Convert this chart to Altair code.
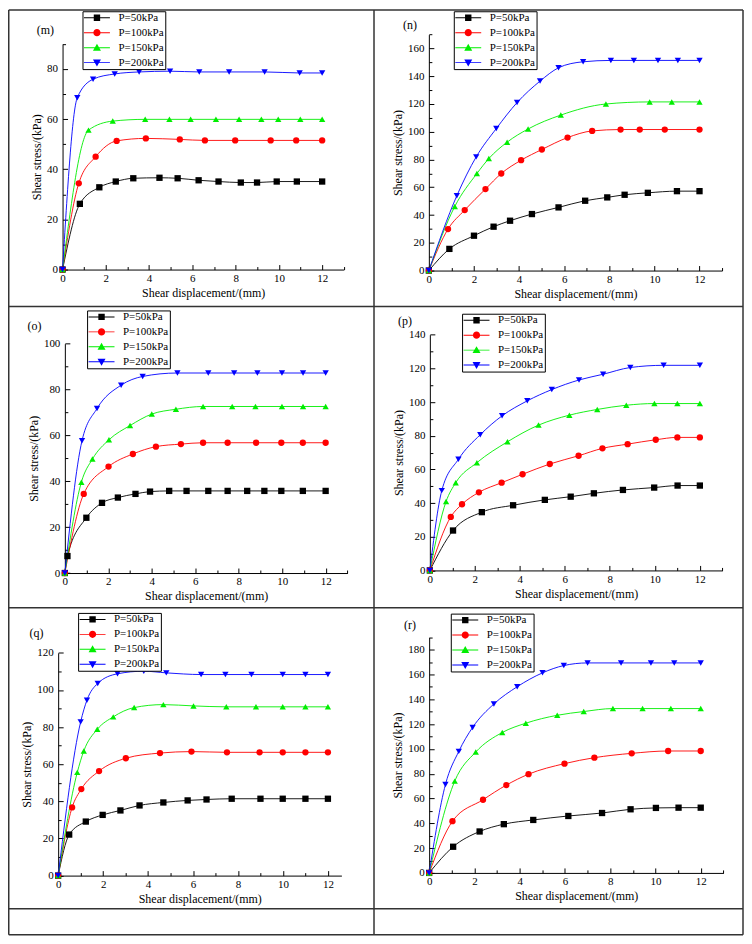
import altair as alt
import pandas as pd

FONT = "Liberation Serif, Times New Roman, DejaVu Serif, serif"
W, H = 738, 929          # chart size in px (page minus the 8 px margin)
MARGIN = 8

SERIES = ["P=50kPa", "P=100kPa", "P=150kPa", "P=200kPa"]
COLORS = ["#000000", "#ff0000", "#00ee00", "#0000ff"]
SHAPES = ["square", "circle", "triangle-up", "triangle-down"]
_LN = "M-3.25,-0.12H3.25V0.12H-3.25Z"
LEGEND_SHAPES = [
    _LN + "M-0.8,-0.8H0.8V0.8H-0.8Z",
    _LN + "M0.9,0A0.9,0.9,0,1,1,-0.9,0A0.9,0.9,0,1,1,0.9,0Z",
    _LN + "M0,-1L1,0.75H-1Z",
    _LN + "M0,1L-1,-0.75H1Z",
]
X_TITLE = "Shear displacement/(mm)"
Y_TITLE = "Shear stress/(kPa)"

# ---------------- panel (m) ----------------
M_X = [
    [0, 0.80, 1.70, 2.46, 3.27, 4.48, 5.32, 6.29, 7.21, 8.24, 8.99, 9.90, 10.83, 12],
    [0, 0.75, 1.53, 2.50, 3.85, 5.42, 6.58, 7.98, 9.62, 10.80, 12],
    [0, 1.20, 2.32, 3.82, 4.94, 5.92, 7.09, 8.16, 9.19, 9.97, 10.99, 12],
    [0, 0.68, 1.41, 2.41, 3.54, 4.97, 6.32, 7.70, 9.34, 10.96, 12],
]
M_Y = [
    [0, 26.2, 32.8, 35.1, 36.4, 36.6, 36.4, 35.6, 35.1, 34.7, 34.7, 35.1, 35.1, 35.1],
    [0, 34.4, 45.0, 51.3, 52.3, 51.9, 51.5, 51.5, 51.5, 51.5, 51.5],
    [0, 55.6, 59.2, 59.9, 59.9, 59.9, 59.9, 59.9, 59.9, 59.9, 59.9, 59.9],
    [0, 68.5, 75.9, 78.0, 78.8, 79.1, 78.8, 78.8, 78.8, 78.4, 78.4],
]
# ---------------- panel (n) ----------------
N_X = [
    [0, 0.91, 2.0, 2.87, 3.60, 4.57, 5.75, 6.93, 7.91, 8.68, 9.71, 11.0, 12],
    [0, 0.85, 1.59, 2.51, 3.21, 4.09, 5.01, 6.15, 7.24, 8.5, 9.35, 10.46, 12],
    [0, 1.15, 2.13, 2.66, 3.47, 4.4, 5.85, 7.85, 9.79, 10.77, 12],
    [0, 1.24, 2.10, 2.99, 3.91, 4.93, 5.75, 6.84, 8.07, 9.09, 10.16, 11.04, 12],
]
N_Y = [
    [0, 15.6, 25.1, 31.6, 35.9, 40.7, 45.5, 50.3, 52.7, 54.6, 56.0, 57.2, 57.2],
    [0, 29.9, 43.6, 58.7, 69.9, 79.5, 87.2, 95.8, 100.6, 101.6, 101.6, 101.6, 101.6],
    [0, 46.2, 69.9, 80.7, 92.5, 102.0, 112.0, 120.0, 121.5, 121.5, 121.5],
    [0, 53.9, 81.9, 102.3, 121.0, 136.5, 146.1, 150.4, 151.4, 151.4, 151.4, 151.4, 151.4],
]
# ---------------- panel (o) ----------------
O_X = [
    [0, 0.12, 0.99, 1.71, 2.44, 3.25, 3.92, 4.80, 5.6, 6.6, 7.49, 8.39, 9.18, 9.96, 10.95, 12],
    [0, 0.87, 2.01, 3.13, 4.19, 5.34, 6.36, 7.49, 8.8, 9.96, 10.95, 12],
    [0, 0.76, 1.27, 2.03, 3.0, 4.0, 5.11, 6.36, 7.7, 8.77, 9.99, 10.96, 12],
    [0, 0.79, 1.48, 2.59, 3.58, 5.18, 6.6, 7.79, 8.86, 9.99, 10.96, 12],
]
O_Y = [
    [0, 7.4, 24.1, 30.6, 32.9, 34.5, 35.5, 35.8, 35.8, 35.8, 35.8, 35.8, 35.8, 35.8, 35.8, 35.8],
    [0, 34.5, 46.4, 51.9, 55.1, 56.2, 56.8, 56.8, 56.8, 56.8, 56.8, 56.8],
    [0, 39.6, 49.7, 58.1, 64.3, 69.3, 71.4, 72.6, 72.6, 72.6, 72.6, 72.6, 72.6],
    [0, 57.7, 71.7, 81.9, 85.7, 87.2, 87.2, 87.2, 87.2, 87.2, 87.2, 87.2],
]
# ---------------- panel (p) ----------------
P_X = [
    [0, 1.03, 2.31, 3.70, 5.11, 6.26, 7.29, 8.58, 9.97, 11.01, 12],
    [0, 0.93, 1.43, 2.18, 3.19, 4.12, 5.33, 6.61, 7.67, 8.79, 10.04, 11.0, 12],
    [0, 0.72, 1.15, 2.09, 3.45, 4.83, 6.2, 7.44, 8.73, 9.98, 11.0, 12],
    [0, 0.53, 1.27, 2.24, 3.21, 4.33, 5.42, 6.63, 7.70, 8.91, 10.39, 12],
]
P_Y = [
    [0, 23.7, 34.6, 38.7, 41.9, 43.8, 45.8, 47.8, 49.2, 50.4, 50.4],
    [0, 31.8, 39.3, 46.4, 52.1, 57.1, 63.2, 68.1, 72.5, 75.0, 77.6, 79.0, 79.0],
    [0, 40.9, 52.1, 64.0, 76.4, 86.3, 92.2, 95.6, 98.1, 99.1, 99.1, 99.1],
    [0, 47.4, 66.0, 80.6, 91.8, 100.7, 107.4, 113.1, 116.5, 120.5, 121.8, 121.8],
]
# ---------------- panel (q) ----------------
Q_X = [
    [0, 0.49, 1.23, 1.98, 2.77, 3.62, 4.68, 5.76, 6.6, 7.72, 9.0, 9.99, 11.0, 12],
    [0, 0.62, 1.03, 1.82, 3.01, 4.53, 5.93, 7.51, 8.96, 9.99, 11.0, 12],
    [0, 0.85, 1.14, 1.74, 2.45, 3.38, 4.68, 6.02, 7.48, 8.80, 9.99, 11.0, 12],
    [0, 1.0, 1.28, 1.76, 2.64, 3.81, 4.81, 6.36, 7.44, 8.6, 9.99, 11.0, 12],
]
Q_Y = [
    [0, 22.1, 29.1, 32.7, 35.1, 37.8, 39.4, 40.5, 41.0, 41.4, 41.4, 41.4, 41.4, 41.4],
    [0, 36.7, 46.6, 56.3, 63.2, 66.0, 66.8, 66.4, 66.4, 66.4, 66.4, 66.4],
    [0, 55.6, 67.1, 78.8, 85.5, 90.5, 92.1, 91.4, 90.9, 90.9, 90.9, 90.9, 90.9],
    [0, 82.8, 94.5, 103.5, 108.7, 110.1, 109.2, 108.3, 108.3, 108.3, 108.3, 108.3, 108.3],
]
# ---------------- panel (r) ----------------
R_X = [
    [0, 1.06, 2.23, 3.30, 4.60, 6.15, 7.64, 8.9, 10.02, 11.02, 12],
    [0, 1.03, 2.38, 3.41, 4.39, 5.98, 7.30, 8.95, 10.56, 12],
    [0, 1.13, 2.06, 3.23, 4.27, 5.66, 6.83, 8.12, 9.43, 10.68, 12],
    [0, 0.72, 1.31, 1.92, 2.86, 3.89, 5.01, 5.95, 7.0, 8.48, 9.80, 10.83, 12],
]
R_Y = [
    [0, 21.1, 33.4, 39.3, 42.7, 45.9, 48.3, 51.3, 52.4, 52.6, 52.6],
    [0, 41.7, 59.0, 70.8, 79.6, 88.1, 92.9, 96.4, 98.3, 98.3],
    [0, 74.0, 97.5, 113.2, 120.7, 127.1, 130.1, 132.5, 132.5, 132.5, 132.5],
    [0, 71.3, 98.0, 117.3, 136.2, 150.1, 161.3, 167.2, 169.3, 169.3, 169.3, 169.3, 169.3],
]

# layout (page pixels): plot box x0, x1, y_bottom, y_top ; legend box top-left ; label centre
PANELS = [
    dict(name="(m)", xs=M_X, ys=M_Y, xmax=13, ymax=90, box=(62.7, 344.7, 269, 42.7), legend=(82.7, 10), label=(45.5, 29)),
    dict(name="(n)", xs=N_X, ys=N_Y, xmax=13, ymax=170, box=(430, 724, 270, 33.4), legend=(455, 10), label=(411, 24)),
    dict(name="(o)", xs=O_X, ys=O_Y, xmax=13, ymax=100, box=(65, 348.3, 573.3, 343.3), legend=(87.3, 310), label=(34.5, 326)),
    dict(name="(p)", xs=P_X, ys=P_Y, xmax=13, ymax=140, box=(431, 724.3, 570.7, 334.3), legend=(463.3, 313.3), label=(406, 320.7)),
    dict(name="(q)", xs=Q_X, ys=Q_Y, xmax=12.6, ymax=120, box=(58.3, 342.3, 876.7, 653.3), legend=(78.3, 613.3), label=(36.5, 633)),
    dict(name="(r)", xs=R_X, ys=R_Y, xmax=13, ymax=190, box=(430.3, 725.3, 874, 637.7), legend=(452, 614), label=(411, 625)),
]

# table rules (page px)
V_LINES = [(4, 4, 936), (375, 4, 936), (745, 4, 936)]
H_LINES = [(4, 4, 745), (306, 4, 745), (608, 4, 745), (910, 4, 745), (936, 4, 745)]


def clampx(v):
    return min(max(v - MARGIN, 0.75), W - 0.75)


def clampy(v):
    return min(max(v - MARGIN, 0.75), H - 0.75)


def make_panel(p):
    rows = []
    for s, xs, ys in zip(SERIES, p["xs"], p["ys"]):
        for i, (x, y) in enumerate(zip(xs, ys)):
            rows.append({"series": s, "x": x, "y": y, "i": i})
    df = pd.DataFrame(rows)
    x0, x1, yb, yt = p["box"]
    x0 -= MARGIN; x1 -= MARGIN; yb -= MARGIN; yt -= MARGIN
    xs = alt.Scale(domain=[0, p["xmax"]], range=[x0, x1], nice=False, zero=False)
    ys = alt.Scale(domain=[0, p["ymax"]], range=[yb, yt], nice=False, zero=False)
    cs = alt.Scale(domain=SERIES, range=COLORS)
    xmaj = list(range(0, 13, 2))
    xall = list(range(0, int(p["xmax"]) + 1))
    ymaj = list(range(0, p["ymax"] + 1, 20))
    yall = list(range(0, p["ymax"] + 1, 10))

    x_lab = alt.Axis(orient="bottom", offset=yb - H, values=xmaj, ticks=False, tickSize=0,
                     labelPadding=3, title=X_TITLE, titlePadding=4, labelFlush=False,
                     labelOverlap=False, grid=False, format="d")
    y_lab = alt.Axis(orient="left", offset=-x0, values=ymaj, ticks=False, tickSize=0,
                     labelPadding=5, title=Y_TITLE, titlePadding=3, labelFlush=False,
                     labelOverlap=False, grid=False, format="d")
    x_tick = alt.Axis(orient="top", offset=-yb, values=xall, labels=False, domain=False,
                      title=None, grid=False,
                      tickSize={"condition": {"test": "datum.value % 2 === 0", "value": 5}, "value": 3})
    y_tick = alt.Axis(orient="right", offset=x0 - W, values=yall, labels=False, domain=False,
                      title=None, grid=False,
                      tickSize={"condition": {"test": "datum.value % 20 === 0", "value": 5}, "value": 3})

    base = alt.Chart(df)
    line = base.mark_line(strokeWidth=0.9, interpolate="monotone").encode(
        x=alt.X("x:Q", scale=xs, axis=x_lab),
        y=alt.Y("y:Q", scale=ys, axis=y_lab),
        color=alt.Color("series:N", scale=cs, legend=None),
        detail="series:N",
        order="i:Q",
    )
    pts = base.mark_point(filled=True, opacity=1, size=40).encode(
        x=alt.X("x:Q", scale=xs, axis=x_tick),
        y=alt.Y("y:Q", scale=ys, axis=y_tick),
        color=alt.Color("series:N", scale=cs, legend=None),
        shape=alt.Shape("series:N", scale=alt.Scale(domain=SERIES, range=SHAPES), legend=None),
    )
    lx, ly = p["legend"]
    leg_props = dict(orient="none", legendX=lx - MARGIN, legendY=ly - MARGIN, title=None,
                     strokeColor="black", fillColor="white", padding=1,
                     labelFont=FONT, labelFontSize=11, labelColor="black",
                     symbolSize=64, symbolOffset=8, labelOffset=16, rowPadding=3,
                     symbolStrokeWidth=0, symbolOpacity=1)
    leg = base.transform_filter("datum.x < 0").mark_point(filled=True, opacity=1).encode(
        color=alt.Color("series:N", scale=cs, legend=alt.Legend(**leg_props)),
        shape=alt.Shape("series:N", scale=alt.Scale(domain=SERIES, range=LEGEND_SHAPES),
                        legend=alt.Legend(**leg_props)),
    )
    tx, ty = p["label"]
    lab = alt.Chart(alt.Data(values=[{"t": p["name"]}])).mark_text(
        font=FONT, fontSize=12, color="black", align="center", baseline="middle"
    ).encode(x=alt.value(tx - MARGIN), y=alt.value(ty - MARGIN), text="t:N")

    return alt.layer(line, pts, leg, lab).resolve_axis(
        x="independent", y="independent"
    ).resolve_scale(color="independent", shape="independent")


panels = [make_panel(p) for p in PANELS]

rules = []
for x, y1, y2 in V_LINES:
    rules.append({"x": clampx(x), "x2": clampx(x), "y": clampy(y1), "y2": clampy(y2)})
for y, x1, x2 in H_LINES:
    rules.append({"x": clampx(x1), "x2": clampx(x2), "y": clampy(y), "y2": clampy(y)})
borders = alt.Chart(pd.DataFrame(rules)).mark_rule(color="#333333", strokeWidth=1.5).encode(
    x=alt.X("x:Q", scale=None, axis=None),
    x2="x2:Q",
    y=alt.Y("y:Q", scale=None, axis=None),
    y2="y2:Q",
)

chart = alt.layer(*panels, borders).resolve_scale(
    x="independent", y="independent", color="independent", shape="independent"
).properties(
    width=W, height=H, padding=0, autosize=alt.AutoSizeParams(type="none")
).configure(font=FONT).configure_view(stroke=None).configure_axis(
    labelFont=FONT, titleFont=FONT, labelFontSize=11, titleFontSize=12,
    titleFontWeight="normal", labelColor="black", titleColor="black",
    domainColor="black", tickColor="black", domainWidth=1, tickWidth=1,
).configure_legend(strokeWidth=1, labelFont=FONT)

chart.save("out.html", embed_options={"renderer": "svg", "actions": False})
